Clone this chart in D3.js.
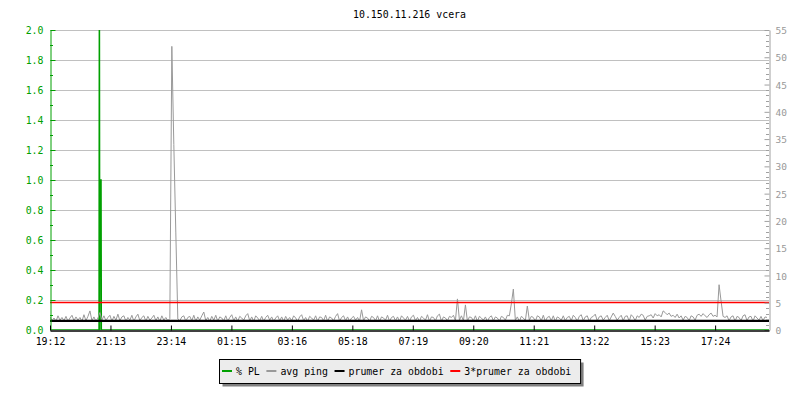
<!DOCTYPE html>
<html>
<head>
<meta charset="utf-8">
<script src="https://cdn.jsdelivr.net/npm/d3@7"></script>
<style>
  body { margin: 0; background: #fff; }
  svg { display: block; }
  text { font-family: "DejaVu Sans Mono", monospace; }
</style>
</head>
<body>
<svg width="800" height="400"></svg>
<script>
var title = "10.150.11.216 vcera";

// x axis: minutes from 19:12, tick every ~121 min
var xTickLabels = ["19:12", "21:13", "23:14", "01:15", "03:16", "05:18",
                   "07:19", "09:20", "11:21", "13:22", "15:23", "17:24"];
var xTickStep = 121.1;
var spanMinutes = 1440;

// packet loss, sparse points [minute]
var plMinutes = [0, 98.1, 98.9, 99.7, 100.1, 102.3, 102.9, 1440];
var plValues  = [0, 0,    2.6,  0,    1.0,   1.0,   0,     0];

// avg ping [ms], one sample every 4 minutes
var pingStep = 4;
var pingValues = [
  2.4,1.7,2.2,1.6,2.6,1.8,2.3,1.7,2.5,1.6,2.2,2.7,1.7,2.4,1.8,2.3,1.6,2.8,1.7,2.5,
  3.5,1.7,2.4,1.6,2.2,3.2,1.8,2.6,1.7,2.3,2.7,1.6,2.5,1.8,2.9,1.7,2.4,2.6,1.6,2.3,
  1.8,2.7,1.6,2.4,2.9,1.7,2.3,2.6,1.6,2.5,1.8,2.2,2.7,1.7,2.4,1.6,2.6,1.8,2.3,1.7,
  2.1,52,34,17.8,2.0,1.7,2.4,2.6,1.6,2.3,2.5,1.7,2.7,1.6,2.4,1.8,2.6,3.3,1.7,2.3,
  1.6,2.5,1.8,2.7,1.6,2.4,2.2,1.7,2.6,1.6,2.3,2.8,1.7,2.4,1.6,2.5,2.2,1.8,2.6,3.0,
  1.7,2.4,1.6,2.6,2.2,1.7,2.5,1.6,2.3,2.7,1.8,2.4,1.6,2.2,2.6,1.7,2.4,1.6,2.5,1.8,
  2.3,1.7,2.6,2.2,1.6,2.4,2.8,1.7,2.3,1.6,2.5,2.2,1.8,2.6,1.6,2.4,2.3,1.7,2.7,1.6,
  2.4,2.2,1.7,2.5,3.0,1.6,2.3,2.6,1.7,2.4,1.6,2.2,2.5,1.8,2.3,1.6,3.7,1.7,2.4,2.2,
  1.6,2.5,2.3,1.7,2.6,1.6,2.4,2.2,1.8,2.7,1.6,2.3,2.5,1.7,2.4,1.6,2.6,2.2,1.8,2.5,
  1.6,2.4,2.7,1.7,2.3,1.6,2.5,2.2,1.8,2.8,1.6,2.4,2.3,1.7,2.6,2.9,1.6,2.4,2.2,1.7,
  2.5,2.3,2.7,1.7,5.7,1.8,2.6,1.7,4.6,1.6,2.4,2.3,1.7,2.6,1.6,2.5,2.2,1.8,2.4,1.6,
  2.3,2.6,1.7,2.4,2.2,1.6,2.5,2.3,1.8,2.7,2.6,4.8,7.5,1.8,2.4,1.6,2.5,2.2,1.7,4.4,
  1.8,2.5,2.3,1.6,2.6,2.4,1.7,2.7,1.6,2.3,2.5,1.7,2.6,1.6,2.4,2.2,1.8,2.6,1.7,2.3,
  2.5,1.7,2.7,2.3,1.6,2.5,2.8,1.7,2.4,2.6,1.6,2.3,2.5,2.9,1.7,2.4,2.6,1.8,2.3,2.7,
  1.7,2.4,3.1,2.5,1.8,2.3,2.7,1.7,2.5,2.6,1.6,2.8,2.4,1.7,2.6,2.3,2.9,2.7,1.8,2.5,
  2.6,2.8,2.2,3.0,2.6,2.8,2.4,3.5,3.2,2.8,3.1,2.5,2.7,2.3,2.9,2.2,2.6,1.8,2.5,2.3,
  1.7,2.6,2.4,1.8,2.7,2.9,2.5,3.0,2.6,2.3,2.8,3.1,2.5,2.7,2.4,8.3,5.3,2.5,2.3,2.6,
  1.7,2.4,2.6,1.6,2.5,2.3,1.7,2.6,2.8,1.7,2.4,2.5,1.6,2.6,2.2,1.8,2.5,1.7,2.4,2.3
];

var pingAvg = 1.68;            // prumer za obdobi
var pingAvg3 = 3 * pingAvg;    // 3*prumer za obdobi

var legendNames  = ["% PL", "avg ping", "prumer za obdobi", "3*prumer za obdobi"];
var legendColors = ["#00a000", "#999999", "#000000", "#ff0000"];

var svg = d3.select("svg");
var plotLeft = 50, plotRight = 769, plotTop = 30, plotBottom = 330;
var fontSize = 9.9;

var x = d3.scaleLinear().domain([0, spanMinutes]).range([plotLeft, plotRight]);
var yPL = d3.scaleLinear().domain([0, 2]).range([plotBottom, plotTop]);
var yPing = d3.scaleLinear().domain([0, 55]).range([plotBottom, plotTop]);

// title
svg.append("text")
    .attr("x", 409.5).attr("y", 18)
    .attr("text-anchor", "middle")
    .attr("font-size", fontSize)
    .text(title);

// grid
var gridVals = d3.range(1, 11).map(function(i){ return i * 0.2; });
svg.append("g").selectAll("line").data(gridVals).enter().append("line")
    .attr("x1", plotLeft).attr("x2", plotRight)
    .attr("y1", function(d){ return Math.round(yPL(d)) + 0.5; })
    .attr("y2", function(d){ return Math.round(yPL(d)) + 0.5; })
    .attr("stroke", "#c0c0c0");

svg.append("defs").append("clipPath").attr("id", "clip")
    .append("rect").attr("x", plotLeft).attr("y", plotTop)
    .attr("width", plotRight - plotLeft).attr("height", plotBottom - plotTop);
var plot = svg.append("g").attr("clip-path", "url(#clip)");

// % PL
var plData = plMinutes.map(function(m, i){ return [m, plValues[i]]; });
plot.append("path")
    .datum(plData)
    .attr("fill", "none")
    .attr("stroke", legendColors[0])
    .attr("stroke-width", 1.4)
    .attr("d", d3.line().x(function(d){ return x(d[0]); }).y(function(d){ return yPL(d[1]); }));

// avg ping
plot.append("path")
    .datum(pingValues)
    .attr("fill", "none")
    .attr("stroke", legendColors[1])
    .attr("stroke-width", 1)
    .attr("d", d3.line().x(function(d, i){ return x(i * pingStep); }).y(function(d){ return yPing(d); }));

// averages
plot.append("line")
    .attr("x1", plotLeft).attr("x2", plotRight)
    .attr("y1", yPing(pingAvg)).attr("y2", yPing(pingAvg))
    .attr("stroke", legendColors[2]).attr("stroke-width", 2.4);
plot.append("line")
    .attr("x1", plotLeft).attr("x2", plotRight)
    .attr("y1", yPing(pingAvg3)).attr("y2", yPing(pingAvg3))
    .attr("stroke", legendColors[3]).attr("stroke-width", 1.6);

// left axis (green)
var leftAxis = svg.append("g").attr("transform", "translate(" + (plotLeft + 0.5) + ",0)")
    .call(d3.axisLeft(yPL)
        .tickValues(d3.range(0, 11).map(function(i){ return i * 0.2; }))
        .tickFormat(d3.format(".1f"))
        .tickSizeInner(-5).tickSizeOuter(0).tickPadding(7));
leftAxis.selectAll("path, line").attr("stroke", "#00a000");
leftAxis.selectAll("text").attr("fill", "#00a000").attr("font-size", fontSize)
    .attr("font-family", "DejaVu Sans Mono").attr("dy", "0.38em");
leftAxis.selectAll("g.tick").filter(function(d){ return d === 0; }).select("line").remove();
svg.append("g").selectAll("line").data(d3.range(0, 10).map(function(i){ return i * 0.2 + 0.1; }))
    .enter().append("line")
    .attr("x1", plotLeft).attr("x2", plotLeft + 3)
    .attr("y1", function(d){ return Math.round(yPL(d)) + 0.5; })
    .attr("y2", function(d){ return Math.round(yPL(d)) + 0.5; })
    .attr("stroke", "#00a000");

// right axis (gray)
var rightAxis = svg.append("g").attr("transform", "translate(" + (plotRight + 0.5) + ",0)")
    .call(d3.axisRight(yPing)
        .tickValues(d3.range(0, 56, 5))
        .tickSizeInner(-5).tickSizeOuter(0).tickPadding(6));
rightAxis.selectAll("path, line").attr("stroke", "#a0a0a0");
rightAxis.selectAll("text").attr("fill", "#999").attr("font-size", 9.5)
    .attr("font-family", "DejaVu Sans Mono").attr("dy", "0.38em");
svg.append("g").selectAll("line").data(d3.range(0, 56).filter(function(v){ return v % 5 !== 0; }))
    .enter().append("line")
    .attr("x1", plotRight - 3).attr("x2", plotRight)
    .attr("y1", function(d){ return Math.round(yPing(d)) + 0.5; })
    .attr("y2", function(d){ return Math.round(yPing(d)) + 0.5; })
    .attr("stroke", "#a0a0a0");

// bottom axis
var xTicks = xTickLabels.map(function(l, i){ return i * xTickStep; });
var bottomAxis = svg.append("g").attr("transform", "translate(0," + (plotBottom + 0.5) + ")")
    .call(d3.axisBottom(x)
        .tickValues(xTicks)
        .tickFormat(function(d, i){ return xTickLabels[i]; })
        .tickSizeInner(-5).tickSizeOuter(0).tickPadding(7));
bottomAxis.select("path").attr("stroke", "#000").attr("stroke-width", 1.4);
bottomAxis.selectAll("line").attr("stroke", "#000");
bottomAxis.selectAll("text").attr("fill", "#000").attr("font-size", fontSize)
    .attr("font-family", "DejaVu Sans Mono").attr("y", 14).attr("dy", 0);

// legend
var legend = svg.append("g");
var shadow = legend.append("rect").attr("fill", "#808080");
var box = legend.append("rect").attr("fill", "#ececec").attr("stroke", "#000");
var cx = 222;
legendNames.forEach(function(name, i){
    legend.append("line")
        .attr("x1", cx).attr("x2", cx + 10)
        .attr("y1", 371).attr("y2", 371)
        .attr("stroke", legendColors[i]).attr("stroke-width", 2);
    var t = legend.append("text")
        .attr("x", cx + 14).attr("y", 374.5)
        .attr("font-size", fontSize)
        .text(name);
    cx = cx + 14 + t.node().getComputedTextLength() + 6.6;
});
var bx = 219.5, by = 359.5, bw = cx + 2.7 - bx, bh = 24;
box.attr("x", bx).attr("y", by).attr("width", bw).attr("height", bh);
shadow.attr("x", bx + 3).attr("y", by + 3).attr("width", bw).attr("height", bh);
</script>
</body>
</html>
